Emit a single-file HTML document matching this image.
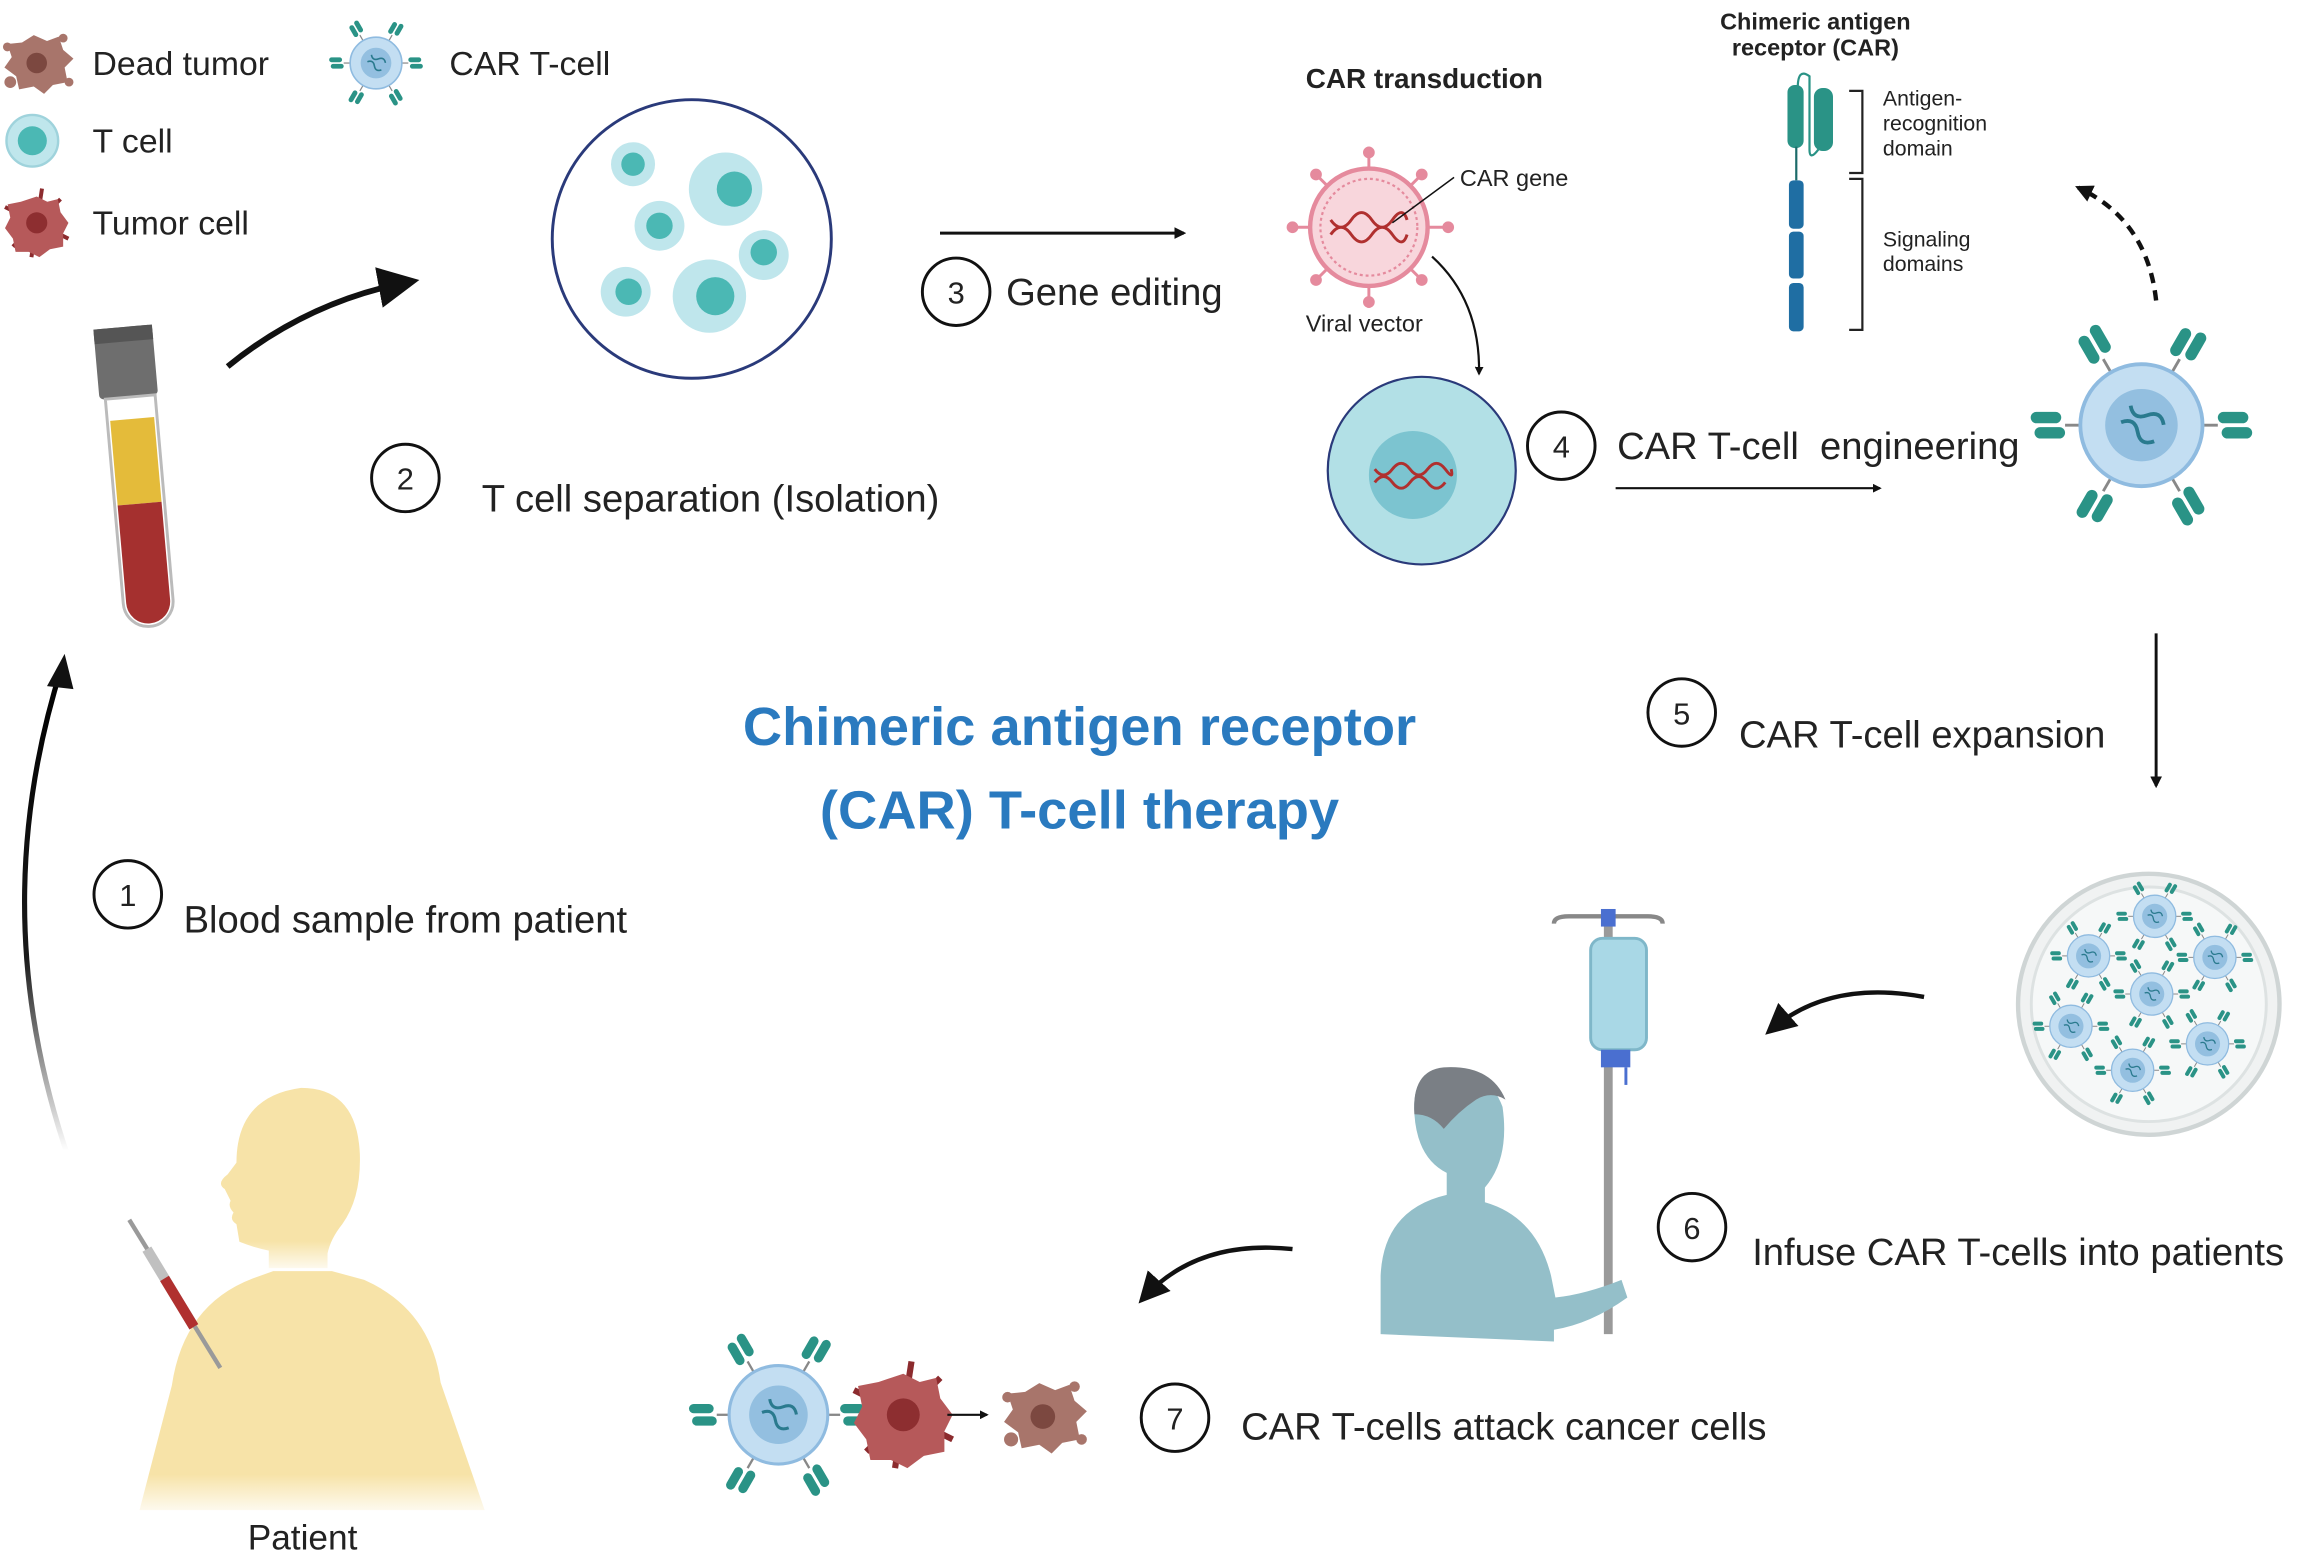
<!DOCTYPE html>
<html><head><meta charset="utf-8"><style>
html,body{margin:0;padding:0;background:#fff;}
svg{display:block;}
text{font-family:"Liberation Sans",Arial,sans-serif;fill:#222;}
</style></head><body>
<svg width="2303" height="1557" viewBox="0 0 1568 1062" preserveAspectRatio="none" xmlns="http://www.w3.org/2000/svg">
<defs>
<marker id="ah" viewBox="0 0 10 10" refX="8" refY="5" markerWidth="7" markerHeight="7" orient="auto-start-reverse"><path d="M0,0 L10,5 L0,10 z" fill="#111"/></marker>
<marker id="ahs" viewBox="0 0 10 10" refX="8" refY="5" markerWidth="4" markerHeight="4" orient="auto"><path d="M0,0 L10,5 L0,10 z" fill="#111"/></marker>
<linearGradient id="fadeL" x1="0" y1="1" x2="0" y2="0"><stop offset="0" stop-color="#000" stop-opacity="0"/><stop offset="0.4" stop-color="#000" stop-opacity="0.9"/><stop offset="1" stop-color="#000"/></linearGradient>
<linearGradient id="fadeB" x1="0" y1="0" x2="0" y2="1"><stop offset="0.85" stop-color="#f7e3a8"/><stop offset="1" stop-color="#f7e3a8" stop-opacity="0.2"/></linearGradient>
<g id="rec"><rect x="-7" y="-26" width="6" height="16" rx="3" fill="#2a9386"/><rect x="1" y="-28" width="6" height="16" rx="3" fill="#2a9386"/><line x1="0" y1="-10" x2="0" y2="0" stroke="#888" stroke-width="1.5"/></g>
<g id="cart">
<use href="#rec" transform="rotate(-30) translate(0,-30)"/><use href="#rec" transform="rotate(30) translate(0,-30)"/>
<use href="#rec" transform="rotate(90) translate(0,-30)"/><use href="#rec" transform="rotate(150) translate(0,-30)"/>
<use href="#rec" transform="rotate(210) translate(0,-30)"/><use href="#rec" transform="rotate(270) translate(0,-30)"/>
<circle r="32" fill="#c3def2" stroke="#8fbbe0" stroke-width="2"/><circle r="19" fill="#93bfe0"/>
<path d="M-10,-6 q5,6 10,0 t10,0 M-10,4 q5,-6 10,0 t10,0" stroke="#2a7a8e" stroke-width="2" fill="none" transform="rotate(30)"/>
</g>
<g id="tcell"><circle r="16" fill="#bfe6ec" stroke="#9fd3dc" stroke-width="1.5"/><circle r="9" fill="#4bb8b4"/></g>
<g id="tumor"><g stroke="#8c2b2e" stroke-width="3"><line x1="-24" y1="-12" x2="24" y2="12"/><line x1="-18" y1="18" x2="18" y2="-18"/><line x1="4" y1="-26" x2="-4" y2="26"/></g>
<path d="M0,-20 l8,4 8,-2 2,10 6,8 -4,8 0,10 -10,2 -8,6 -8,-4 -10,0 -2,-10 -6,-8 4,-8 -2,-10 10,-2z" fill="#b6595a"/><circle r="8" fill="#8d2e30"/></g>
<g id="dead"><path d="M-2,-18 l9,4 8,-3 3,9 7,6 -6,6 2,10 -10,2 -6,6 -7,-5 -10,2 -2,-9 -8,-6 5,-7 -3,-9 10,-1z" fill="#a8756b"/><circle cx="-20" cy="-10" r="3" fill="#a8756b"/><circle cx="22" cy="14" r="3" fill="#a8756b"/><circle cx="-18" cy="14" r="4" fill="#a8756b"/><circle cx="18" cy="-16" r="3" fill="#a8756b"/><circle cy="1" r="7" fill="#7c4840"/></g>
</defs>

<!-- legend -->
<use href="#dead" transform="translate(25,42)"/>
<text x="63" y="51" font-size="23">Dead tumor</text>
<use href="#tcell" transform="translate(22,96) scale(1.1)"/>
<text x="63" y="104" font-size="23">T cell</text>
<use href="#tumor" transform="translate(25,152) scale(0.9)"/>
<text x="63" y="160" font-size="23">Tumor cell</text>
<use href="#cart" transform="translate(256,43) scale(0.55)"/>
<text x="306" y="51" font-size="23">CAR T-cell</text>

<!-- blood tube -->
<g transform="rotate(-5 100 320)">
<rect x="72" y="222" width="40" height="48" rx="3" fill="#6e6e6e"/>
<rect x="72" y="222" width="40" height="10" fill="#555"/>
<path d="M76,270 h34 v140 a17,17 0 0 1 -34,0z" fill="#fff" stroke="#bbb" stroke-width="2"/>
<rect x="78" y="285" width="30" height="58" fill="#e4bb3a"/>
<path d="M78,343 h30 v67 a15,15 0 0 1 -30,0z" fill="#a5302f"/>
</g>
<path d="M155,250 Q210,205 280,192" stroke="#111" stroke-width="4" fill="none" marker-end="url(#ah)"/>

<!-- isolation circle -->
<circle cx="471" cy="163" r="95" fill="#fff" stroke="#2a3a7a" stroke-width="2"/>
<g><circle cx="431" cy="112" r="15" fill="#bfe6ec"/><circle cx="431" cy="112" r="8" fill="#4bb8b4"/>
<circle cx="494" cy="129" r="25" fill="#bfe6ec"/><circle cx="500" cy="129" r="12" fill="#4bb8b4"/>
<circle cx="449" cy="154" r="17" fill="#bfe6ec"/><circle cx="449" cy="154" r="9" fill="#4bb8b4"/>
<circle cx="520" cy="174" r="17" fill="#bfe6ec"/><circle cx="520" cy="172" r="9" fill="#4bb8b4"/>
<circle cx="426" cy="199" r="17" fill="#bfe6ec"/><circle cx="428" cy="199" r="9" fill="#4bb8b4"/>
<circle cx="483" cy="202" r="25" fill="#bfe6ec"/><circle cx="487" cy="202" r="13" fill="#4bb8b4"/></g>
<circle cx="276" cy="326" r="23" fill="#fff" stroke="#111" stroke-width="2"/><text x="276" y="334" font-size="21" text-anchor="middle">2</text>
<text x="328" y="349" font-size="26">T cell separation (Isolation)</text>

<line x1="640" y1="159" x2="806" y2="159" stroke="#111" stroke-width="2" marker-end="url(#ahs)"/>
<circle cx="651" cy="199" r="23" fill="#fff" stroke="#111" stroke-width="2"/><text x="651" y="207" font-size="21" text-anchor="middle">3</text>
<text x="685" y="208" font-size="26">Gene editing</text>

<!-- transduction -->
<text x="889" y="60" font-size="19" font-weight="bold">CAR transduction</text>
<g stroke="#e58a9d" stroke-width="2"><line x1="932" y1="155" x2="932" y2="100"/><line x1="932" y1="155" x2="932" y2="210"/><line x1="932" y1="155" x2="877" y2="155"/><line x1="932" y1="155" x2="987" y2="155"/><line x1="932" y1="155" x2="894" y2="117"/><line x1="932" y1="155" x2="970" y2="117"/><line x1="932" y1="155" x2="894" y2="193"/><line x1="932" y1="155" x2="970" y2="193"/></g>
<g fill="#e58a9d"><circle cx="932" cy="104" r="4"/><circle cx="932" cy="206" r="4"/><circle cx="880" cy="155" r="4"/><circle cx="986" cy="155" r="4"/><circle cx="896" cy="119" r="4"/><circle cx="968" cy="119" r="4"/><circle cx="896" cy="191" r="4"/><circle cx="968" cy="191" r="4"/></g>
<circle cx="932" cy="155" r="40" fill="#f8d6dc" stroke="#e58a9d" stroke-width="3"/>
<circle cx="932" cy="155" r="33" fill="none" stroke="#e58a9d" stroke-width="1.5" stroke-dasharray="2 2"/>
<path d="M906,150 q7,10 14,0 t14,0 t14,0 t10,0 M906,160 q7,-10 14,0 t14,0 t14,0 t10,0" stroke="#b0302f" stroke-width="2" fill="none"/>
<line x1="948" y1="152" x2="990" y2="121" stroke="#111" stroke-width="1"/>
<text x="994" y="127" font-size="16">CAR gene</text>
<text x="889" y="226" font-size="16">Viral vector</text>
<path d="M975,175 Q1008,205 1007,255" stroke="#111" stroke-width="1.5" fill="none" marker-end="url(#ahs)"/>
<circle cx="968" cy="321" r="64" fill="#b2e0e6" stroke="#2a3a7a" stroke-width="1.5"/>
<circle cx="962" cy="324" r="30" fill="#7cc4d0"/>
<path d="M936,320 q6,8 12,0 t12,0 t12,0 t12,0 t4,0 M936,329 q6,-8 12,0 t12,0 t12,0 t12,0" stroke="#b0302f" stroke-width="2" fill="none"/>
<circle cx="1063" cy="304" r="23" fill="#fff" stroke="#111" stroke-width="2"/><text x="1063" y="312" font-size="21" text-anchor="middle">4</text>
<text x="1101" y="313" font-size="26" xml:space="preserve">CAR T-cell  engineering</text>
<line x1="1100" y1="333" x2="1280" y2="333" stroke="#111" stroke-width="1.5" marker-end="url(#ahs)"/>
<use href="#cart" transform="translate(1458,290) scale(1.3)"/>
<path d="M1468,205 Q1462,150 1415,128" stroke="#111" stroke-width="3" stroke-dasharray="7 5" fill="none" marker-end="url(#ahs)"/>

<!-- CAR structure -->
<text x="1236" y="20" font-size="16" font-weight="bold" text-anchor="middle">Chimeric antigen</text>
<text x="1236" y="38" font-size="16" font-weight="bold" text-anchor="middle">receptor (CAR)</text>
<rect x="1217" y="58" width="11" height="43" rx="5" fill="#2a9386"/>
<rect x="1235" y="60" width="13" height="43" rx="6" fill="#2a9386"/>
<path d="M1224,60 q0,-14 8,-8 l0,50 q0,8 6,0" stroke="#2a9386" stroke-width="1.5" fill="none"/>
<line x1="1223" y1="100" x2="1223" y2="123" stroke="#1c6b6a" stroke-width="1.5"/>
<rect x="1218" y="123" width="10" height="33" rx="3" fill="#1f6ea3"/>
<rect x="1218" y="158" width="10" height="32" rx="3" fill="#1f6ea3"/>
<rect x="1218" y="193" width="10" height="33" rx="3" fill="#1f6ea3"/>
<path d="M1259,62 h9 v56 h-9 M1259,122 h9 v103 h-9" stroke="#222" stroke-width="1.5" fill="none"/>
<text font-size="14.5" fill="#444"><tspan x="1282" y="72">Antigen-</tspan><tspan x="1282" y="89">recognition</tspan><tspan x="1282" y="106">domain</tspan><tspan x="1282" y="168">Signaling</tspan><tspan x="1282" y="185">domains</tspan></text>

<!-- title -->
<text x="735" y="508" font-size="37" font-weight="bold" text-anchor="middle" style="fill:#2a7abf">Chimeric antigen receptor</text>
<text x="735" y="565" font-size="37" font-weight="bold" text-anchor="middle" style="fill:#2a7abf">(CAR) T-cell therapy</text>

<!-- 5 -->
<circle cx="1145" cy="486" r="23" fill="#fff" stroke="#111" stroke-width="2"/><text x="1145" y="494" font-size="21" text-anchor="middle">5</text>
<text x="1184" y="510" font-size="26">CAR T-cell expansion</text>
<line x1="1468" y1="432" x2="1468" y2="536" stroke="#111" stroke-width="2" marker-end="url(#ahs)"/>
<circle cx="1463" cy="685" r="89" fill="#f0f2f2" stroke="#cfd5d5" stroke-width="3"/>
<circle cx="1463" cy="685" r="80" fill="#f6f8f8" stroke="#dde2e2" stroke-width="2"/>
<use href="#cart" transform="translate(1467,625) scale(0.45)"/><use href="#cart" transform="translate(1422,652) scale(0.45)"/>
<use href="#cart" transform="translate(1508,653) scale(0.45)"/><use href="#cart" transform="translate(1465,678) scale(0.45)"/>
<use href="#cart" transform="translate(1410,700) scale(0.45)"/><use href="#cart" transform="translate(1503,712) scale(0.45)"/>
<use href="#cart" transform="translate(1452,730) scale(0.45)"/>
<path d="M1310,680 Q1245,668 1205,703" stroke="#111" stroke-width="3" fill="none" marker-end="url(#ah)"/>

<!-- patient with IV -->
<line x1="1095" y1="625" x2="1095" y2="910" stroke="#9a9a9a" stroke-width="6"/>
<path d="M1058,630 q0,-5 10,-5 h54 q10,0 10,5" stroke="#888" stroke-width="3" fill="none"/>
<rect x="1090" y="620" width="10" height="12" fill="#4a6fd0"/>
<rect x="1083" y="640" width="38" height="76" rx="8" fill="#a9d8e6" stroke="#7fb7c9" stroke-width="2"/>
<rect x="1090" y="716" width="20" height="12" fill="#4a6fd0"/>
<line x1="1107" y1="728" x2="1107" y2="740" stroke="#4a6fd0" stroke-width="2"/>
<path d="M940,910 l0,-40 q2,-45 45,-55 l0,-15 q-20,-10 -22,-40 q-2,-30 20,-30 q30,-2 40,25 q5,35 -12,55 l0,10 q35,10 45,50 l3,15 q20,-2 45,-12 l4,12 q-25,18 -50,22 l0,8z" fill="#94bfc9"/>
<path d="M963,760 q-2,-30 20,-32 q32,-2 42,22 q-10,-6 -20,0 q-12,8 -22,20 q-8,-10 -20,-10z" fill="#7a7f85"/>
<circle cx="1152" cy="837" r="23" fill="#fff" stroke="#111" stroke-width="2"/><text x="1152" y="845" font-size="21" text-anchor="middle">6</text>
<text x="1193" y="863" font-size="26">Infuse CAR T-cells into patients</text>
<path d="M880,852 Q815,845 778,886" stroke="#111" stroke-width="3" fill="none" marker-end="url(#ah)"/>

<!-- attack -->
<use href="#cart" transform="translate(530,965) scale(1.05)"/>
<use href="#tumor" transform="translate(615,965) scale(1.4)"/>
<line x1="645" y1="965" x2="672" y2="965" stroke="#111" stroke-width="1.5" marker-end="url(#ahs)"/>
<use href="#dead" transform="translate(710,965) scale(1.2)"/>
<circle cx="800" cy="967" r="23" fill="#fff" stroke="#111" stroke-width="2"/><text x="800" y="975" font-size="21" text-anchor="middle">7</text>
<text x="845" y="982" font-size="26">CAR T-cells attack cancer cells</text>

<!-- patient -->
<g fill="url(#fadeB)">
<path d="M205,742 q38,0 40,45 q1,30 -12,48 q-8,10 -10,20 l0,10 h-40 l0,-12 q-10,-2 -20,-6 l-2,-12 q-5,-3 -2,-8 q-4,-4 -2,-8 l-4,-8 q-6,-4 2,-10 l6,-8 q0,-45 44,-51z"/>
<path d="M95,1030 l22,-85 q8,-55 55,-73 l14,-5 h40 l22,6 q45,20 52,70 l30,87z"/>
</g>
<line x1="88" y1="832" x2="150" y2="933" stroke="#9a9a9a" stroke-width="3"/>
<line x1="100" y1="852" x2="132" y2="905" stroke="#c0c0c0" stroke-width="7"/>
<line x1="112" y1="872" x2="132" y2="905" stroke="#b0302f" stroke-width="7"/>
<text x="206" y="1057" font-size="24" text-anchor="middle">Patient</text>

<circle cx="87" cy="610" r="23" fill="#fff" stroke="#111" stroke-width="2"/><text x="87" y="618" font-size="21" text-anchor="middle">1</text>
<text x="125" y="636" font-size="26">Blood sample from patient</text>
<path d="M45,785 Q-10,620 42,455" stroke="url(#fadeL)" stroke-width="3.5" fill="none"/>
<path d="M32,468 L44,446 L50,470z" fill="#111"/>
</svg>
</body></html>
